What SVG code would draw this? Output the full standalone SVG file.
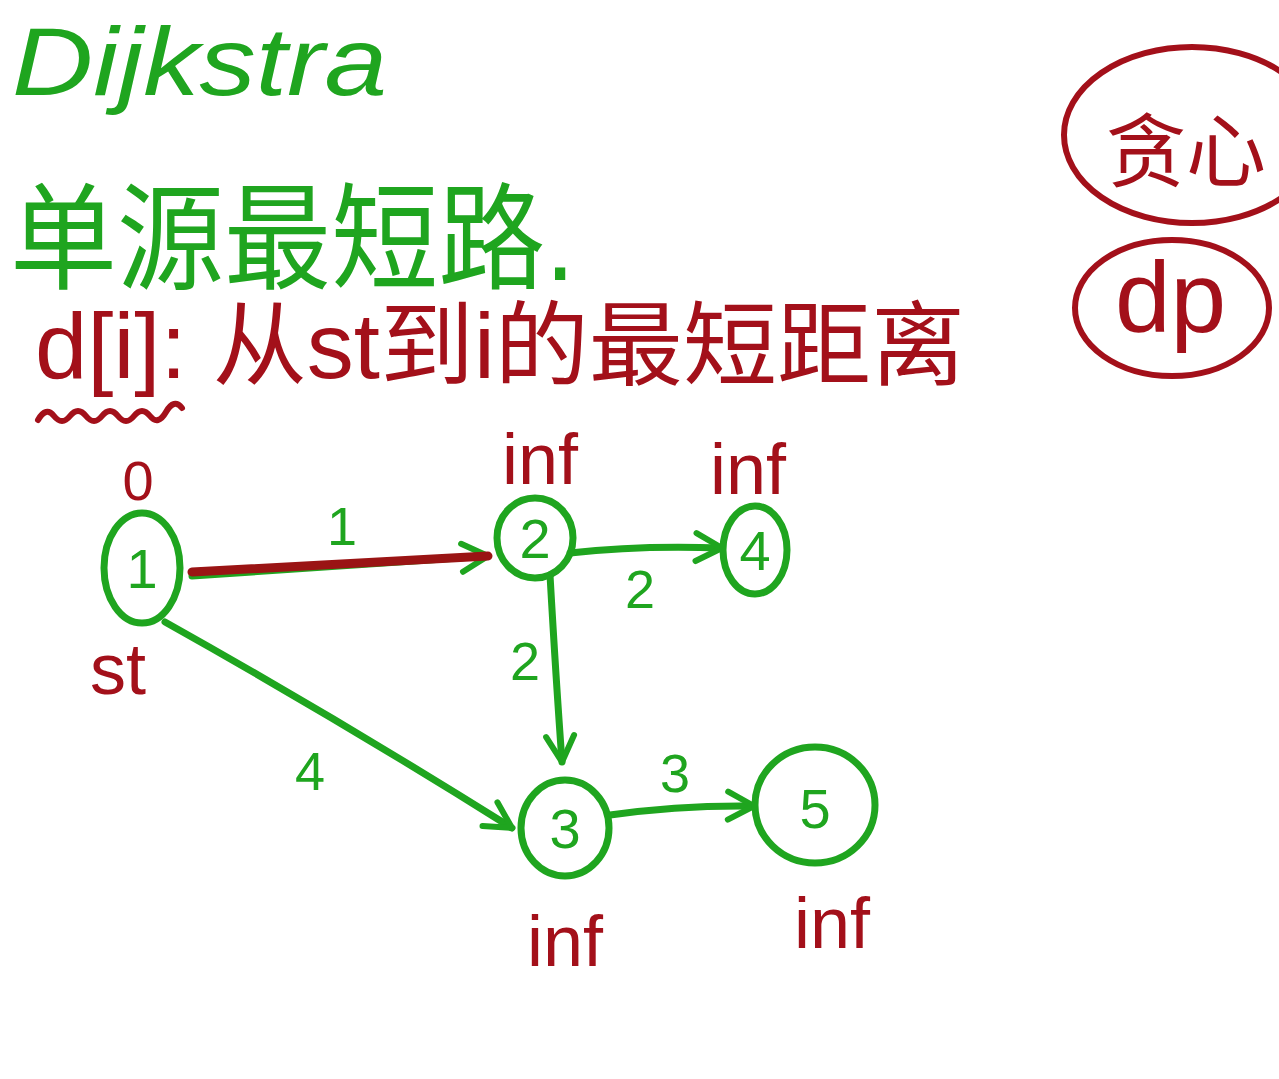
<svg xmlns="http://www.w3.org/2000/svg" width="1279" height="1079" viewBox="0 0 1279 1079">
<style>
.g{fill:#1fa51f;font-family:"Liberation Sans","Noto Sans CJK SC",sans-serif}
.r{fill:#a3101a;font-family:"Liberation Sans","Noto Sans CJK SC",sans-serif}
.gs{fill:none;stroke:#1fa51f;stroke-width:7;stroke-linecap:round}
.rs{fill:none;stroke:#a3101a;stroke-width:6;stroke-linecap:round}
.num{font-size:56px;text-anchor:middle}
.inf{font-size:72px;text-anchor:middle}
.w{font-size:54px;text-anchor:middle}
</style>
<defs>
<marker id="arr" viewBox="-30 -20 40 40" refX="0" refY="0" markerWidth="40" markerHeight="40" markerUnits="userSpaceOnUse" orient="auto">
<path d="M-26,-14 L0,0 L-26,14" fill="none" stroke="#1fa51f" stroke-width="6" stroke-linecap="round" stroke-linejoin="round"/>
</marker>
</defs>
<rect width="1279" height="1079" fill="#ffffff"/>
<g id="title">
<text class="g" x="12" y="95" font-size="96" font-style="italic" textLength="375" lengthAdjust="spacingAndGlyphs">Dijkstra</text>
<text class="g" x="10" y="280" font-size="116" textLength="565" lengthAdjust="spacingAndGlyphs">单源最短路.</text>
<text class="r" x="35" y="378" font-size="92" textLength="930" lengthAdjust="spacingAndGlyphs">d[i]: 从st到i的最短距离</text>
<path class="rs" d="M38,420 q8,-14 16,-4 t16,0 t16,0 t16,0 t16,0 t16,0 t16,0 t16,-4 t16,-4"/>
</g>
<g id="greedy">
<ellipse class="rs" cx="1192" cy="135" rx="128" ry="88" stroke-width="4"/>
<text class="r" x="1106" y="180" font-size="80">贪心</text>
</g>
<g id="dp">
<ellipse class="rs" cx="1172" cy="308" rx="97" ry="68" stroke-width="4"/>
<text class="r" x="1115" y="332" font-size="100">dp</text>
</g>
<g id="connectors">
<path class="gs" d="M192,576 L488,556" marker-end="url(#arr)"/>
<path d="M192,572 L488,556" fill="none" stroke="#9a1414" stroke-width="9" stroke-linecap="round"/>
<text class="g w" x="342" y="545">1</text>
<path class="gs" d="M570,553 Q640,545 722,548" marker-end="url(#arr)"/>
<text class="g w" x="640" y="608">2</text>
<path class="gs" d="M550,575 Q556,680 562,762" marker-end="url(#arr)"/>
<text class="g w" x="525" y="680">2</text>
<path class="gs" d="M165,622 Q340,720 512,828" marker-end="url(#arr)"/>
<text class="g w" x="310" y="790">4</text>
<path class="gs" d="M610,815 Q680,805 754,806" marker-end="url(#arr)"/>
<text class="g w" x="675" y="792">3</text>
</g>
<g id="node1">
<ellipse class="gs" cx="142" cy="568" rx="38" ry="55"/>
<text class="g num" x="142" y="588">1</text>
<text class="r" x="138" y="500" font-size="56" text-anchor="middle">0</text>
<text class="r" x="118" y="694" font-size="72" text-anchor="middle">st</text>
</g>
<g id="node2">
<ellipse class="gs" cx="535" cy="538" rx="38" ry="40"/>
<text class="g num" x="535" y="558">2</text>
<text class="r inf" x="540" y="484">inf</text>
</g>
<g id="node4">
<ellipse class="gs" cx="755" cy="550" rx="32" ry="44"/>
<text class="g num" x="755" y="570">4</text>
<text class="r inf" x="748" y="494">inf</text>
</g>
<g id="node3">
<ellipse class="gs" cx="565" cy="828" rx="44" ry="48"/>
<text class="g num" x="565" y="848">3</text>
<text class="r inf" x="565" y="966">inf</text>
</g>
<g id="node5">
<ellipse class="gs" cx="815" cy="805" rx="60" ry="58"/>
<text class="g num" x="815" y="828">5</text>
<text class="r inf" x="832" y="948">inf</text>
</g>
</svg>
